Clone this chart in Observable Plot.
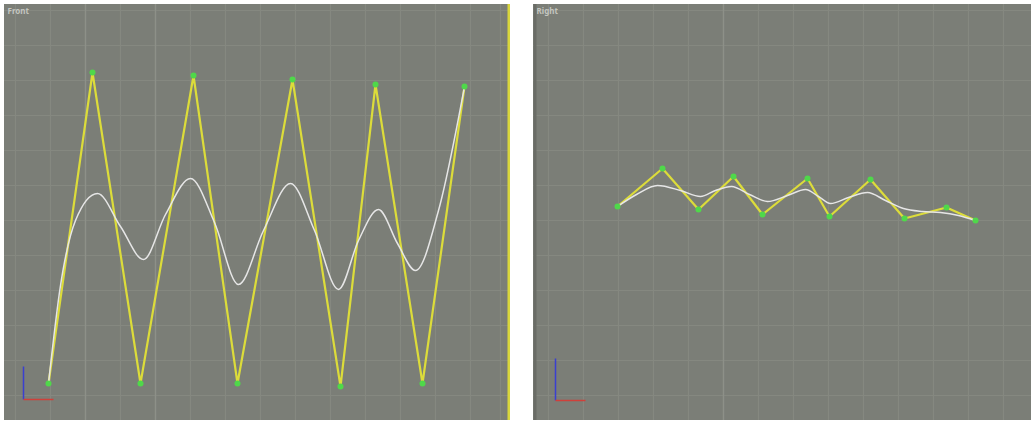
<!DOCTYPE html>
<html><head><meta charset="utf-8">
<script src="https://cdn.jsdelivr.net/npm/d3@7"></script>
<script src="https://cdn.jsdelivr.net/npm/@observablehq/plot@0.6"></script>
<style>
html,body{margin:0;padding:0;background:#fff;}
#wrap{position:relative;width:1031px;height:423px;overflow:hidden;font-family:"DejaVu Sans",sans-serif;}
.panel{position:absolute;top:4px;}
.panel svg{display:block;}
</style></head><body><div id="wrap"></div>
<script>
// ---- Data (page pixel units) ----
const viewLabels = ["Front", "Right"];

// Left viewport: control polygon (yellow) + vertices (green)
const frontCtrlX = [48, 92, 140, 193, 237, 292, 340, 375, 422, 464];
const frontCtrlY = [383, 72, 383, 75, 383, 79, 386, 84, 383, 86];
// Left viewport: smooth interpolated curve (white)
const frontCurveX = [48, 60, 75, 97, 120, 143, 165, 190, 214, 238, 263, 290, 314, 338, 358, 378, 397, 415, 438, 464];
const frontCurveY = [383, 285, 220, 193, 226, 259, 214, 178, 222, 284, 230, 183, 230, 289, 240, 209, 243, 270, 210, 86];

// Right viewport
const rightCtrlX = [617, 662, 698, 733, 762, 807, 829, 870, 904, 946, 975];
const rightCtrlY = [206, 168, 209, 176, 214, 178, 216, 179, 218, 207, 220];
const rightCurveX = [617, 636, 657, 680, 700, 715, 731, 749, 767, 787, 805, 818, 830, 848, 867, 885, 903, 922, 940, 958, 975];
const rightCurveY = [206, 194, 185, 190, 196, 190, 186, 194, 201, 195, 189, 196, 203, 197, 192, 200, 208, 211, 212, 215, 220];

// Grid lines
const frontGridX = [15, 50, 85, 120, 155, 190, 225, 260, 295, 330, 365, 400, 435, 470, 500];
const rightGridX = [548, 583, 618, 653, 688, 723, 758, 793, 828, 863, 898, 933, 968, 1003];
const gridY = [10, 45, 80, 115, 150, 185, 220, 255, 290, 325, 360, 395];
const frontMajorX = [85, 155];
const rightMajorX = [723];

// Axis gizmos
const frontGizmo = {ox: 23, oy: 399, zTop: 366, xEnd: 53};
const rightGizmo = {ox: 555, oy: 400, zTop: 358, xEnd: 585};

const BG = "#7b7e77", GRID = "#858880", MAJOR = "#8d9088";
const YEL = "#dcdc3a", GRN = "#4fd84a", WHT = "#e6e6e6";

function rows(xs, ys) { return xs.map((x, i) => ({x, y: ys[i]})); }

function viewport({x0, x1, label, ctrlX, ctrlY, curveX, curveY, gridX, majorX, gizmo, active}) {
  const w = x1 - x0, h = 416;
  const ctrl = rows(ctrlX, ctrlY), curve = rows(curveX, curveY);
  const gz = [
    {x1: gizmo.ox, y1: gizmo.oy, x2: gizmo.ox, y2: gizmo.zTop, c: "#3a3fd0"},
    {x1: gizmo.ox, y1: gizmo.oy, x2: gizmo.xEnd, y2: gizmo.oy, c: "#d0403a"}
  ];
  const marks = [
    Plot.ruleX(gridX, {stroke: GRID, strokeWidth: 1.2}),
    Plot.ruleY(gridY, {stroke: GRID, strokeWidth: 1.2}),
    Plot.ruleX(majorX, {stroke: MAJOR, strokeWidth: 1.4}),
    Plot.line(ctrl, {x: "x", y: "y", stroke: YEL, strokeWidth: 2.2}),
    Plot.line(curve, {x: "x", y: "y", stroke: WHT, strokeWidth: 1.5, curve: "monotone-x"}),
    Plot.dot(ctrl, {x: "x", y: "y", r: 3, fill: GRN, stroke: null}),
    Plot.link(gz, {x1: "x1", y1: "y1", x2: "x2", y2: "y2", stroke: "c", strokeWidth: 1.5}),
    Plot.text([label], {frameAnchor: "top-left", dx: 3, dy: 4, fill: "#c4c6c0", fontSize: 8, fontWeight: "bold"})
  ];
  if (active) marks.push(Plot.ruleX([x1 - 1.5], {stroke: "#d9d63c", strokeWidth: 3}));
  else marks.push(Plot.ruleX([x0 + 1.5], {stroke: "#6a6c66", strokeWidth: 3}));
  const svg = Plot.plot({
    width: w, height: h, margin: 0,
    x: {domain: [x0, x1], range: [0, w], axis: null},
    y: {domain: [4, 420], range: [0, h], axis: null},
    color: {type: "identity"},
    style: {background: BG, overflow: "hidden"},
    marks
  });
  const div = document.createElement("div");
  div.className = "panel";
  div.style.left = x0 + "px";
  div.appendChild(svg);
  return div;
}

const wrap = document.getElementById("wrap");
wrap.appendChild(viewport({x0: 4, x1: 510, label: viewLabels[0], ctrlX: frontCtrlX, ctrlY: frontCtrlY,
  curveX: frontCurveX, curveY: frontCurveY, gridX: frontGridX, majorX: frontMajorX, gizmo: frontGizmo, active: true}));
wrap.appendChild(viewport({x0: 533, x1: 1031, label: viewLabels[1], ctrlX: rightCtrlX, ctrlY: rightCtrlY,
  curveX: rightCurveX, curveY: rightCurveY, gridX: rightGridX, majorX: rightMajorX, gizmo: rightGizmo, active: false}));
</script></body></html>
